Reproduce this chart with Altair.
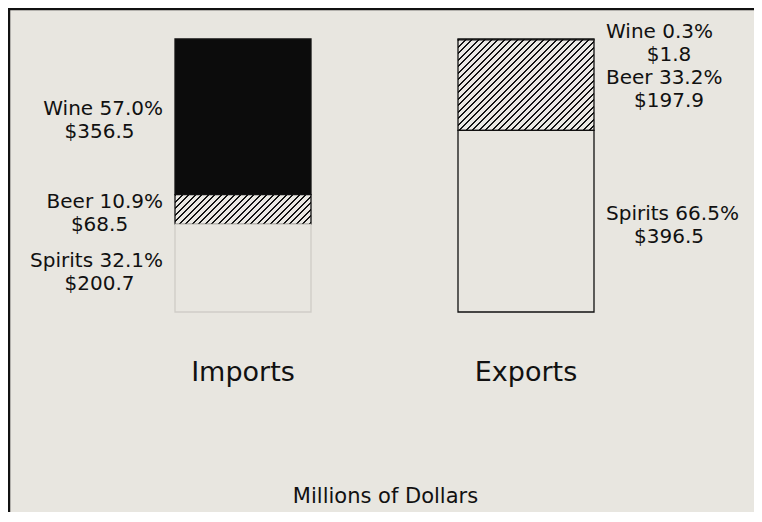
import altair as alt
import pandas as pd

# ---- data ----
flows = ["Imports", "Imports", "Imports", "Exports", "Exports", "Exports"]
types = ["Wine", "Beer", "Spirits", "Wine", "Beer", "Spirits"]
values = [356.5, 68.5, 200.7, 1.8, 197.9, 396.5]      # millions of dollars
pcts = [57.0, 10.9, 32.1, 0.3, 33.2, 66.5]             # share of flow, %
stack_rank = [3, 2, 1, 3, 2, 1]                        # Spirits at the bottom

df = pd.DataFrame({
    "flow": flows, "type": types, "value": values, "pct": pcts, "rank": stack_rank,
})
df["line1"] = [f"{t} {p:.1f}%" for t, p in zip(types, pcts)]
df["line2"] = [f"${v:.1f}" for v in values]

# ---- style ----
BG = "#e8e6e0"
INK = "#111111"
FONT = "DejaVu Sans"
W, H = 746, 273
PAD = {"left": 0, "top": 31, "right": 0, "bottom": 200}
BAND = 136


def hatch(w, h, period=6.5, dark_frac=0.32, dark="#141414", light="#ebe9e4"):
    """45-degree '/' stripes as a hard-stop linear gradient on a w x h box."""
    n = (w + h) / period
    den = w * w + h * h
    x2 = w * (w + h) / den
    y2 = h * (w + h) / den
    stops = []
    k = 0
    while k < n:
        a = k / n
        b = min((k + dark_frac) / n, 1.0)
        c = min((k + 1) / n, 1.0)
        stops += [
            {"offset": round(a, 5), "color": dark},
            {"offset": round(b, 5), "color": dark},
            {"offset": round(b, 5), "color": light},
            {"offset": round(c, 5), "color": light},
        ]
        k += 1
    return {"gradient": "linear", "x1": 0, "y1": 0, "x2": x2, "y2": y2, "stops": stops}


tot_imp = sum(v for f, v in zip(flows, values) if f == "Imports")
tot_exp = sum(v for f, v in zip(flows, values) if f == "Exports")
beer_imp = [v for f, t, v in zip(flows, types, values) if f == "Imports" and t == "Beer"][0]
beer_exp = [v for f, t, v in zip(flows, types, values) if f == "Exports" and t == "Beer"][0]
g_imp = hatch(BAND, beer_imp / tot_imp * H)
g_exp = hatch(BAND, beer_exp / tot_exp * H)

# band layout: centres at 235 / 518 (svg px), band width 136
step = 283.0
p_in = 1 - BAND / step
p_out = (W / step - (2 - p_in)) / 2
align = (235 - BAND / 2) / (W - step * (2 - p_in))
xscale = alt.Scale(domain=["Imports", "Exports"], paddingInner=p_in,
                   paddingOuter=p_out, align=align, round=False)
yscale = alt.Scale(domain=[0, 1], nice=False, zero=False)

base = alt.Chart(df).transform_stack(
    stack="value", groupby=["flow"], as_=["y0", "y1"], offset="normalize",
    sort=[alt.SortField("rank", order="ascending")],
).transform_calculate(mid="(datum.y0 + datum.y1) / 2")

X = alt.X(
    "flow:N", scale=xscale,
    axis=alt.Axis(
        title="Millions of Dollars", labelAngle=0, domain=False, ticks=False,
        tickSize=0, labelFont=FONT, labelFontSize=27, labelColor=INK,
        labelPadding=68, labelBaseline="alphabetic", titleFont=FONT,
        titleFontSize=21, titleFontWeight="normal", titleColor=INK,
        titleBaseline="alphabetic", titleY=190, titleX=377,
    ),
)

bars = base.mark_bar(strokeWidth=1.3).encode(
    x=X,
    y=alt.Y("y0:Q", scale=yscale, axis=None),
    y2="y1:Q",
    fill=alt.FillValue(
        value=BG,
        condition=[
            {"test": "datum.type == 'Beer' && datum.flow == 'Imports'", "value": g_imp},
            {"test": "datum.type == 'Beer' && datum.flow == 'Exports'", "value": g_exp},
            {"test": "datum.type == 'Wine'", "value": "#0c0c0c"},
        ],
    ),
    stroke=alt.condition(
        "datum.type == 'Spirits' && datum.flow == 'Imports'",
        alt.value("#cfcdc7"), alt.value(INK),
    ),
)

txt = dict(font=FONT, fontSize=20, color=INK, baseline="middle")


def labels(flow, field, align, dx, dy):
    return base.transform_filter(f"datum.flow == '{flow}'").mark_text(
        align=align, dx=dx, dy=dy, **txt
    ).encode(x=alt.X("flow:N", scale=xscale), y=alt.Y("mid:Q", scale=yscale), text=f"{field}:N")


imp1 = labels("Imports", "line1", "right", -80, -7.5)
imp2 = labels("Imports", "line2", "center", -143.5, 15.5)
exp1 = labels("Exports", "line1", "left", 80, -7.5)
exp2 = labels("Exports", "line2", "center", 143, 15.5)

one = alt.Chart(pd.DataFrame({"k": [0]}))
frame_left = one.mark_rule(color=INK, strokeWidth=2.5).encode(
    x=alt.value(1), y=alt.value(-PAD["top"] + 1), y2=alt.value(H + PAD["bottom"]))
frame_top = one.mark_rule(color=INK, strokeWidth=2.5).encode(
    x=alt.value(0), x2=alt.value(W), y=alt.value(-PAD["top"] + 1))

chart = alt.layer(bars, imp1, imp2, exp1, exp2, frame_left, frame_top).properties(
    width=W, height=H, padding=PAD, background=BG,
    autosize=alt.AutoSizeParams(type="none"),
).configure_view(stroke=None)

chart.save("out.html", embed_options={"renderer": "svg", "actions": False})
